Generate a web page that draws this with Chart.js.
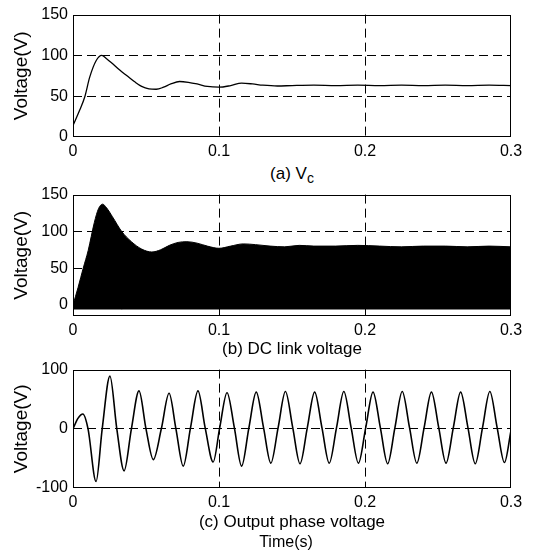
<!DOCTYPE html>
<html>
<head>
<meta charset="utf-8">
<script src="https://cdn.jsdelivr.net/npm/chart.js"></script>
<style>
body { margin: 0; background: #fff; }
#lienzo { position: relative; width: 533px; height: 555px; font-family: "Liberation Sans", Arial, sans-serif; color: #000; }
canvas { position: absolute; left: 0; }
.titulo { position: absolute; left: 73px; width: 438px; text-align: center; font-size: 17px; line-height: 18px; }
.titulo sub { font-size: 14px; }
</style>
</head>
<body>
<div id="lienzo">
    <canvas id="graficoVc" width="533" height="161" style="top:0px"></canvas>
    <div class="titulo" style="top:165px">(a) V<sub>c</sub></div>
    <canvas id="graficoDC" width="533" height="160" style="top:180px"></canvas>
    <div class="titulo" style="top:340px">(b) DC link voltage</div>
    <canvas id="graficoSalida" width="533" height="157" style="top:355px"></canvas>
    <div class="titulo" style="top:513px">(c) Output phase voltage</div>
    <div class="titulo" style="top:533px; left:67px; font-size:16px">Time(s)</div>
</div>
<script>
// ticks del eje de tiempo
const ticksTiempo = [0, 0.1, 0.2, 0.3];

// (a) Vc
const tiempoVc = [0, 0.0046, 0.0082, 0.0114, 0.016, 0.0197, 0.023, 0.027, 0.032, 0.037, 0.042, 0.047, 0.052, 0.057, 0.062, 0.067, 0.073, 0.079, 0.085, 0.092, 0.1, 0.108, 0.1155, 0.123, 0.13, 0.14, 0.15, 0.165, 0.18, 0.195, 0.21, 0.225, 0.24, 0.255, 0.27, 0.285, 0.3];
const valorVc = [14, 33, 50, 73, 94, 100, 96, 90, 82, 75, 68, 62, 59, 58.5, 61, 65, 68, 67, 65, 62, 61, 63, 66, 65, 63.5, 62.5, 63, 63.5, 63, 63.5, 63, 63.5, 63, 63.5, 63, 63.5, 63];
const ticksVc = [0, 50, 100, 150];

// (b) tension del enlace DC (envolvente de la conmutacion)
const tiempoDC = [0, 0.0035, 0.0070, 0.0104, 0.0146, 0.0175, 0.0203, 0.023, 0.027, 0.0333, 0.04, 0.047, 0.054, 0.06, 0.066, 0.072, 0.078, 0.085, 0.092, 0.1, 0.108, 0.1166, 0.125, 0.135, 0.145, 0.155, 0.165, 0.18, 0.195, 0.21, 0.225, 0.24, 0.255, 0.27, 0.285, 0.3];
const valorDC = [0, 24, 50, 74, 112, 131, 137, 132, 120, 100, 86, 76, 72, 75, 81, 85, 86, 84, 80, 77, 80, 83, 82, 80, 79, 81, 80, 80, 81, 80, 79, 80, 80, 79, 80, 79];
const baseDC = -6;
const huecoDC = [{ x: 0.0334, y: -6 }, { x: 0.0334, y: 54 }];
const ticksDC = [0, 50, 100, 150];

// (c) tension de fase de salida
const tiempoSalida = [0, 0.0035, 0.0068, 0.0103, 0.0158, 0.02, 0.0253, 0.03, 0.035, 0.04, 0.0452, 0.05, 0.055, 0.0605, 0.0658, 0.0705, 0.0755, 0.0805, 0.0856, 0.0905, 0.096, 0.1005, 0.1055, 0.1105, 0.1155, 0.1205, 0.1255, 0.1305, 0.1355, 0.1405, 0.1455, 0.1505, 0.1555, 0.1605, 0.1655, 0.1705, 0.1755, 0.1805, 0.1855, 0.1905, 0.1955, 0.2005, 0.2055, 0.2105, 0.2155, 0.2205, 0.2255, 0.2305, 0.2355, 0.2405, 0.2455, 0.2505, 0.2555, 0.2605, 0.2655, 0.2705, 0.2755, 0.2805, 0.2855, 0.2905, 0.2955, 0.3];
const valorSalida = [0, 18, 25, 0, -89, 0, 89, 0, -71, 0, 64, 0, -52, 0, 60, 0, -63, 2, 64, 2, -56, 2, 61, 2, -63, 2, 62, 2, -58, 2, 63, 2, -59, 2, 62, 2, -58, 2, 63, 2, -58, 2, 62, 2, -59, 2, 63, 2, -58, 2, 62, 2, -58, 2, 62, 2, -59, 2, 63, 2, -57, -3];
const ticksSalida = [-100, 0, 100];

const fuente = "'Liberation Sans', Arial, sans-serif";

const marco = {
    id: "marco",
    afterDatasetsDraw(chart) {
        const { ctx, chartArea } = chart;
        ctx.save();
        ctx.setLineDash([]);
        ctx.strokeStyle = "#000";
        ctx.lineWidth = 1;
        ctx.strokeRect(Math.round(chartArea.left) + 0.5, Math.round(chartArea.top) + 0.5,
            Math.round(chartArea.width) - 1, Math.round(chartArea.height) - 1);
        ctx.restore();
    },
};

function colorRejilla(c) {
    if (c.tick && (c.tick.value === c.scale.min || c.tick.value === c.scale.max)) {
        return "rgba(0,0,0,0)";
    }
    return "#000";
}

function opciones(arriba, yMin, yMax, yTicks) {
    return {
        responsive: false,
        animation: false,
        layout: { padding: { top: arriba, right: 22, left: 0, bottom: 0 } },
        plugins: {
            legend: { display: false },
            tooltip: { enabled: false },
        },
        elements: { point: { radius: 0 } },
        scales: {
            x: {
                type: "linear",
                min: 0,
                max: 0.3,
                afterBuildTicks: (s) => { s.ticks = ticksTiempo.map((v) => ({ value: v })); },
                afterFit: (s) => { s.height = 24; },
                ticks: {
                    color: "#000",
                    padding: 5,
                    maxRotation: 0,
                    font: { size: 16, family: fuente },
                    callback: (v) => String(v),
                },
                grid: { color: colorRejilla, drawTicks: false, lineWidth: 1 },
                border: { display: false, dash: [9, 5] },
            },
            y: {
                min: yMin,
                max: yMax,
                afterBuildTicks: (s) => { s.ticks = yTicks.map((v) => ({ value: v })); },
                afterFit: (s) => { s.width = 73; },
                ticks: {
                    color: "#000",
                    padding: 5,
                    font: { size: 16, family: fuente },
                    callback: (v) => String(v),
                },
                grid: { color: colorRejilla, drawTicks: false, lineWidth: 1 },
                border: { display: false, dash: [9, 5] },
                title: {
                    display: true,
                    text: "Voltage(V)",
                    color: "#000",
                    font: { size: 19, family: fuente },
                    padding: { top: 10, bottom: 0 },
                },
            },
        },
    };
}

const puntos = (ts, vs) => ts.map((t, i) => ({ x: t, y: vs[i] }));

const chartVc = new Chart(document.getElementById("graficoVc"), {
    type: "line",
    data: {
        datasets: [
            {
                label: "Vc",
                data: puntos(tiempoVc, valorVc),
                borderColor: "#000",
                borderWidth: 1.3,
                fill: false,
                cubicInterpolationMode: "monotone",
            },
        ],
    },
    options: opciones(14, 0, 150, ticksVc),
    plugins: [marco],
});

const chartDC = new Chart(document.getElementById("graficoDC"), {
    type: "line",
    data: {
        datasets: [
            {
                label: "DC link",
                data: puntos(tiempoDC, valorDC),
                borderColor: "#000",
                backgroundColor: "#000",
                borderWidth: 1,
                fill: { value: baseDC },
                cubicInterpolationMode: "monotone",
            },
            {
                label: "hueco",
                data: huecoDC,
                borderColor: "#666",
                borderWidth: 1,
                fill: false,
            },
        ],
    },
    options: opciones(13, -15, 150, ticksDC),
    plugins: [marco],
});

const chartSalida = new Chart(document.getElementById("graficoSalida"), {
    type: "line",
    data: {
        datasets: [
            {
                label: "Salida",
                data: puntos(tiempoSalida, valorSalida),
                borderColor: "#000",
                borderWidth: 1.6,
                fill: false,
                cubicInterpolationMode: "monotone",
            },
        ],
    },
    options: opciones(12, -100, 100, ticksSalida),
    plugins: [marco],
});
</script>
</body>
</html>
